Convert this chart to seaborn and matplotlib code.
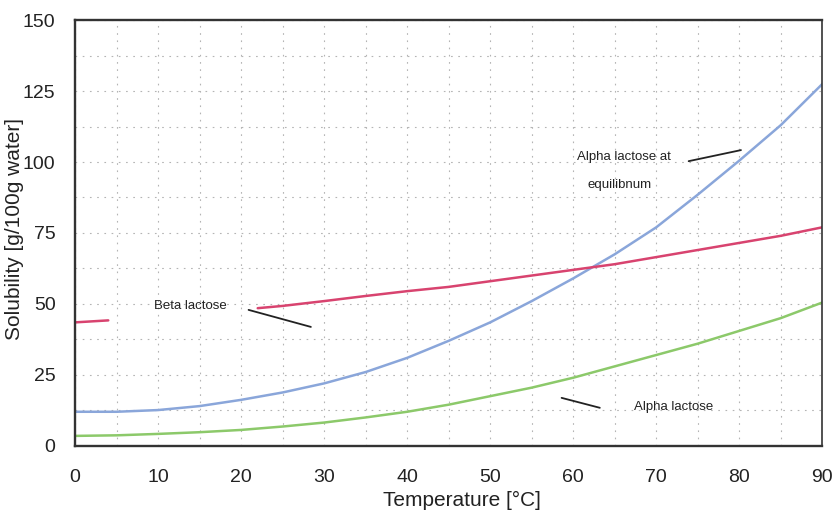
import numpy as np
import pandas as pd
import matplotlib
matplotlib.use("Agg")
import matplotlib.pyplot as plt
import seaborn as sns
from matplotlib.ticker import MultipleLocator

temperature = [0, 5, 10, 15, 20, 25, 30, 35, 40, 45, 50, 55, 60, 65, 70, 75, 80, 85, 90]
alpha_equilibrium = [12, 12, 12.6, 14, 16.2, 18.8, 22, 26, 31, 37, 43.5, 51, 59, 67.5, 77, 88.5, 100.5, 113, 127.5]
alpha_lactose = [3.5, 3.7, 4.2, 4.8, 5.6, 6.8, 8.2, 10, 12, 14.5, 17.5, 20.5, 24, 28, 32, 36, 40.5, 45, 50.5]
beta_temp_a = [0, 4]
beta_lactose_a = [43.5, 44.2]
beta_temp_b = [22, 25, 30, 35, 40, 45, 50, 55, 60, 65, 70, 75, 80, 85, 90]
beta_lactose_b = [48.5, 49.3, 51, 52.8, 54.5, 56, 58, 60, 62, 64, 66.5, 69, 71.5, 74, 77]

x_ticks = [0, 10, 20, 30, 40, 50, 60, 70, 80, 90]
y_ticks = [0, 25, 50, 75, 100, 125, 150]

sns.set_theme(style="white")
plt.rcParams['font.family'] = ['Liberation Sans', 'DejaVu Sans']

fig = plt.figure(figsize=(8.34, 5.16), dpi=100)
ax = fig.add_axes([0.09, 0.136, 0.896, 0.825])

blue = "#8aa6da"
red = "#d8436f"
green = "#8cc96a"

sns.lineplot(x=temperature, y=alpha_equilibrium, ax=ax, color=blue, lw=1.8)
sns.lineplot(x=temperature, y=alpha_lactose, ax=ax, color=green, lw=1.8)
sns.lineplot(x=beta_temp_a, y=beta_lactose_a, ax=ax, color=red, lw=1.8)
sns.lineplot(x=beta_temp_b, y=beta_lactose_b, ax=ax, color=red, lw=1.8)

ax.set_xlim(0, 90)
ax.set_ylim(0, 150)
ax.set_xticks(x_ticks)
ax.set_yticks(y_ticks)
ax.xaxis.set_minor_locator(MultipleLocator(5))
ax.yaxis.set_minor_locator(MultipleLocator(12.5))
ax.grid(True, which='both', color='#b4b4b4', ls=(0, (1.5, 5)), lw=0.8)
ax.tick_params(axis='x', which='major', labelsize=14, pad=17, length=0, colors='#222222')
ax.tick_params(axis='y', which='major', labelsize=14, pad=14, length=0, colors='#222222')
ax.tick_params(which='minor', length=0)
for sp in ax.spines.values():
    sp.set_visible(True)
    sp.set_color('#333333')
    sp.set_linewidth(1.7)
ax.spines['right'].set_linewidth(1.2)

ax.set_xlabel("")
ax.set_ylabel("")
fig.text(462 / 834, 1 - 500 / 516, "Temperature [°C]", fontsize=15, color='#222222',
         ha='center', va='center')
fig.text(15 / 834, 1 - 229 / 516, "Solubility [g/100g water]", fontsize=15, color='#222222',
         ha='center', va='center', rotation=90)

tk = dict(fontsize=9.5, color='#222222', ha='center', va='center')
ax.text(66.1, 101.8, "Alpha lactose at", **tk)
ax.text(65.6, 91.9, "equilibnum", **tk)
ax.plot([73.9, 80.2], [100.3, 104.2], color='#222222', lw=1.3)
ax.text(13.9, 49.3, "Beta lactose", **tk)
ax.plot([20.9, 28.4], [47.9, 41.9], color='#222222', lw=1.3)
ax.text(72.1, 13.7, "Alpha lactose", **tk)
ax.plot([58.6, 63.2], [16.9, 13.4], color='#222222', lw=1.3)

fig.savefig("out.png", dpi=100)
